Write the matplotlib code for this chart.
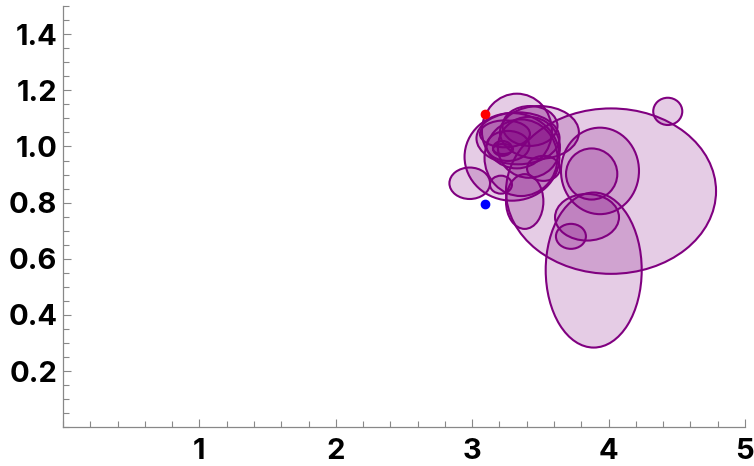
import matplotlib.pyplot as plt
from matplotlib.patches import Ellipse
from matplotlib.ticker import MultipleLocator

plt.rcParams['font.family'] = ['Inter', 'DejaVu Sans']

# ellipse centres and full widths/heights (data units)
cx = [4.018, 4.434, 3.891, 3.937, 3.876, 3.842, 3.724, 2.982,
      3.292, 3.328, 3.493, 3.336, 3.358, 3.385, 3.211, 3.262,
      3.222, 3.523, 3.240, 3.424, 3.416, 3.226]
cy = [0.841, 1.125, 0.560, 0.913, 0.902, 0.748, 0.680, 0.869,
      0.963, 1.055, 1.050, 1.029, 0.960, 0.804, 0.864, 1.002,
      0.993, 0.922, 1.045, 1.073, 0.997, 0.991]
ew = [1.540, 0.213, 0.704, 0.572, 0.376, 0.469, 0.220, 0.298,
      0.696, 0.513, 0.579, 0.609, 0.535, 0.274, 0.161, 0.315,
      0.139, 0.242, 0.367, 0.403, 0.455, 0.147]
eh = [0.589, 0.097, 0.552, 0.308, 0.182, 0.166, 0.089, 0.112,
      0.312, 0.266, 0.188, 0.185, 0.273, 0.195, 0.064, 0.107,
      0.053, 0.089, 0.096, 0.142, 0.217, 0.036]

red_pt = (3.094, 1.116)
blue_pt = (3.094, 0.796)

fig = plt.figure(figsize=(7.54, 4.66), dpi=100)
ax = fig.add_axes([0.0836, 0.083, 0.9044, 0.904])

for x, y, w, h in zip(cx, cy, ew, eh):
    ax.add_patch(Ellipse((x, y), w, h, facecolor=(0.5, 0, 0.5, 0.2),
                         edgecolor='purple', linewidth=1.5))

ax.plot(*red_pt, 'o', color='red', markersize=6, zorder=5)
ax.plot(*blue_pt, 'o', color='blue', markersize=6, zorder=5)

ax.set_xlim(0, 5)
ax.set_ylim(0, 1.5)
for s in ['top', 'right']:
    ax.spines[s].set_visible(False)
for s in ['left', 'bottom']:
    ax.spines[s].set_color('#888888')
    ax.spines[s].set_linewidth(0.9)

ax.xaxis.set_major_locator(MultipleLocator(1))
ax.xaxis.set_minor_locator(MultipleLocator(0.2))
ax.yaxis.set_major_locator(MultipleLocator(0.2))
ax.yaxis.set_minor_locator(MultipleLocator(0.05))
ax.set_xticks([1, 2, 3, 4, 5])
ax.set_yticks([0.2, 0.4, 0.6, 0.8, 1.0, 1.2, 1.4])
ax.set_yticklabels(['0.2', '0.4', '0.6', '0.8', '1.0', '1.2', '1.4'])
ax.tick_params(which='both', direction='in', color='#888888', width=0.8)
ax.tick_params(which='major', length=6)
ax.tick_params(which='minor', length=4)
ax.tick_params(axis='x', pad=8)
ax.tick_params(axis='y', pad=4)
for lab in ax.get_xticklabels() + ax.get_yticklabels():
    lab.set_fontsize(21)
    lab.set_fontweight('bold')

fig.savefig('out.png', dpi=100)
